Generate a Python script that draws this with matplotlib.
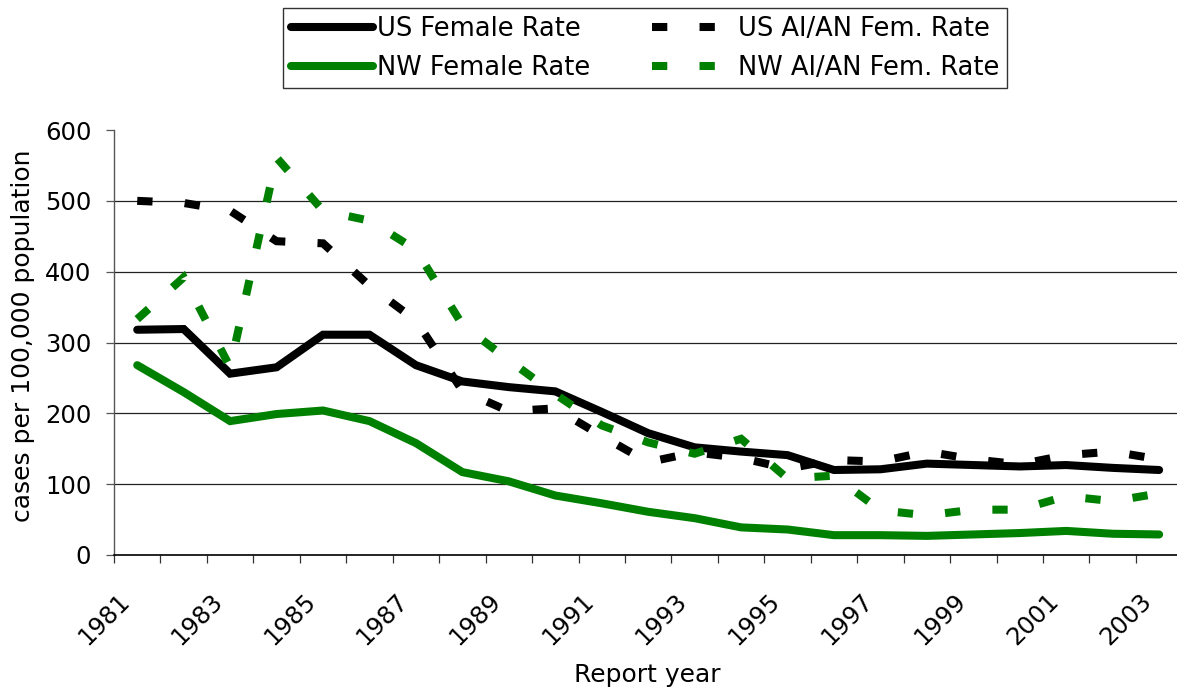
import matplotlib
matplotlib.use('Agg')
import matplotlib.pyplot as plt
from matplotlib.transforms import ScaledTranslation
import numpy as np

plt.rcParams['font.family'] = ['DejaVu Sans']

years = list(range(1981, 2004))
us_female = [318, 319, 256, 265, 311, 311, 268, 245, 237, 231, 202, 172, 152, 146, 141,
             120, 121, 129, 127, 125, 127, 123, 120]
nw_female = [268, 230, 189, 199, 204, 189, 158, 117, 104, 84, 73, 61, 52, 39, 36,
             28, 28, 27, 29, 31, 34, 30, 29]
us_aian = [500, 497, 486, 443, 440, 380, 331, 232, 203, 207, 168, 131, 145, 137, 122,
           134, 132, 146, 135, 128, 141, 146, 135]
nw_aian = [333, 392, 265, 561, 486, 472, 431, 325, 275, 227, 183, 159, 143, 164, 108,
           112, 63, 56, 64, 64, 83, 76, 87]
y_ticks = [0, 100, 200, 300, 400, 500, 600]

series = [
    ("US Female Rate", us_female, 'black', '-'),
    ("NW Female Rate", nw_female, '#008000', '-'),
    ("US AI/AN Fem. Rate", us_aian, 'black', '--'),
    ("NW AI/AN Fem. Rate", nw_aian, '#008000', '--'),
]

W, H = 1177, 690
fig = plt.figure(figsize=(W / 100, H / 100), dpi=100)
left_px, right_px = 114, 1177
top_px, bottom_px = 130, 555
ax = fig.add_axes([left_px / W, 1 - bottom_px / H,
                   (right_px - left_px) / W, (bottom_px - top_px) / H])

x = np.arange(len(years))
cat_w = 46.45
ax.set_xlim(-0.5, -0.5 + (right_px - left_px) / cat_w)
ax.set_ylim(0, 600)

lw = 5.8
handles = []
for name, vals, col, ls in series:
    if ls == '-':
        h, = ax.plot(x, vals, color=col, lw=lw, solid_capstyle='round',
                     solid_joinstyle='miter', label=name, zorder=3)
    else:
        h, = ax.plot(x, vals, color=col, lw=lw, dashes=(1.9, 4.0),
                     dash_capstyle='butt', dash_joinstyle='miter', label=name, zorder=3)
    handles.append(h)

# gridlines
for yv in y_ticks[1:-1]:
    ax.axhline(yv, color='#222222', lw=0.9, zorder=1)

for s in ['top', 'right']:
    ax.spines[s].set_visible(False)
ax.spines['left'].set_color('#555555')
ax.spines['left'].set_linewidth(1.0)
ax.spines['bottom'].set_color('black')
ax.spines['bottom'].set_linewidth(1.2)

fs_tick = 17.5
ax.set_yticks(y_ticks)
ax.set_yticklabels([str(v) for v in y_ticks])
ax.tick_params(axis='y', length=5.8, width=0.9, color='#555555', labelsize=fs_tick, pad=10.5)

ax.set_xticks(x[::2])
ax.set_xticklabels([str(y) for y in years[::2]])
ax.set_xticks(np.arange(-0.5, len(years) - 0.5, 1), minor=True)
ax.tick_params(axis='x', which='major', length=0, labelsize=fs_tick, pad=24.5)
ax.tick_params(axis='x', which='minor', length=5.8, width=0.9, color='#333333', direction='out')
offset = ScaledTranslation(-3 / 100, 0, fig.dpi_scale_trans)
for lbl in ax.get_xticklabels():
    lbl.set_rotation(45)
    lbl.set_ha('right')
    lbl.set_va('top')
    lbl.set_rotation_mode('default')
    lbl.set_transform(lbl.get_transform() + offset)

fig.text(23 / W, 1 - 336 / H, "cases per 100,000 population", rotation=90,
         ha='center', va='center', fontsize=18)
fig.text(647 / W, 1 - 675 / H, "Report year", ha='center', va='center', fontsize=18)

leg = fig.legend(handles, [s[0] for s in series], ncol=2, loc='upper left',
                 bbox_to_anchor=(283 / W, 1 - 8 / H), frameon=True, fancybox=False,
                 edgecolor='black', fontsize=18.5, handlelength=3.2, handletextpad=0.15,
                 columnspacing=2.4, labelspacing=0.5, borderpad=0.3, borderaxespad=0)
leg.get_frame().set_linewidth(1.0)

fig.savefig('out.png', dpi=100)
